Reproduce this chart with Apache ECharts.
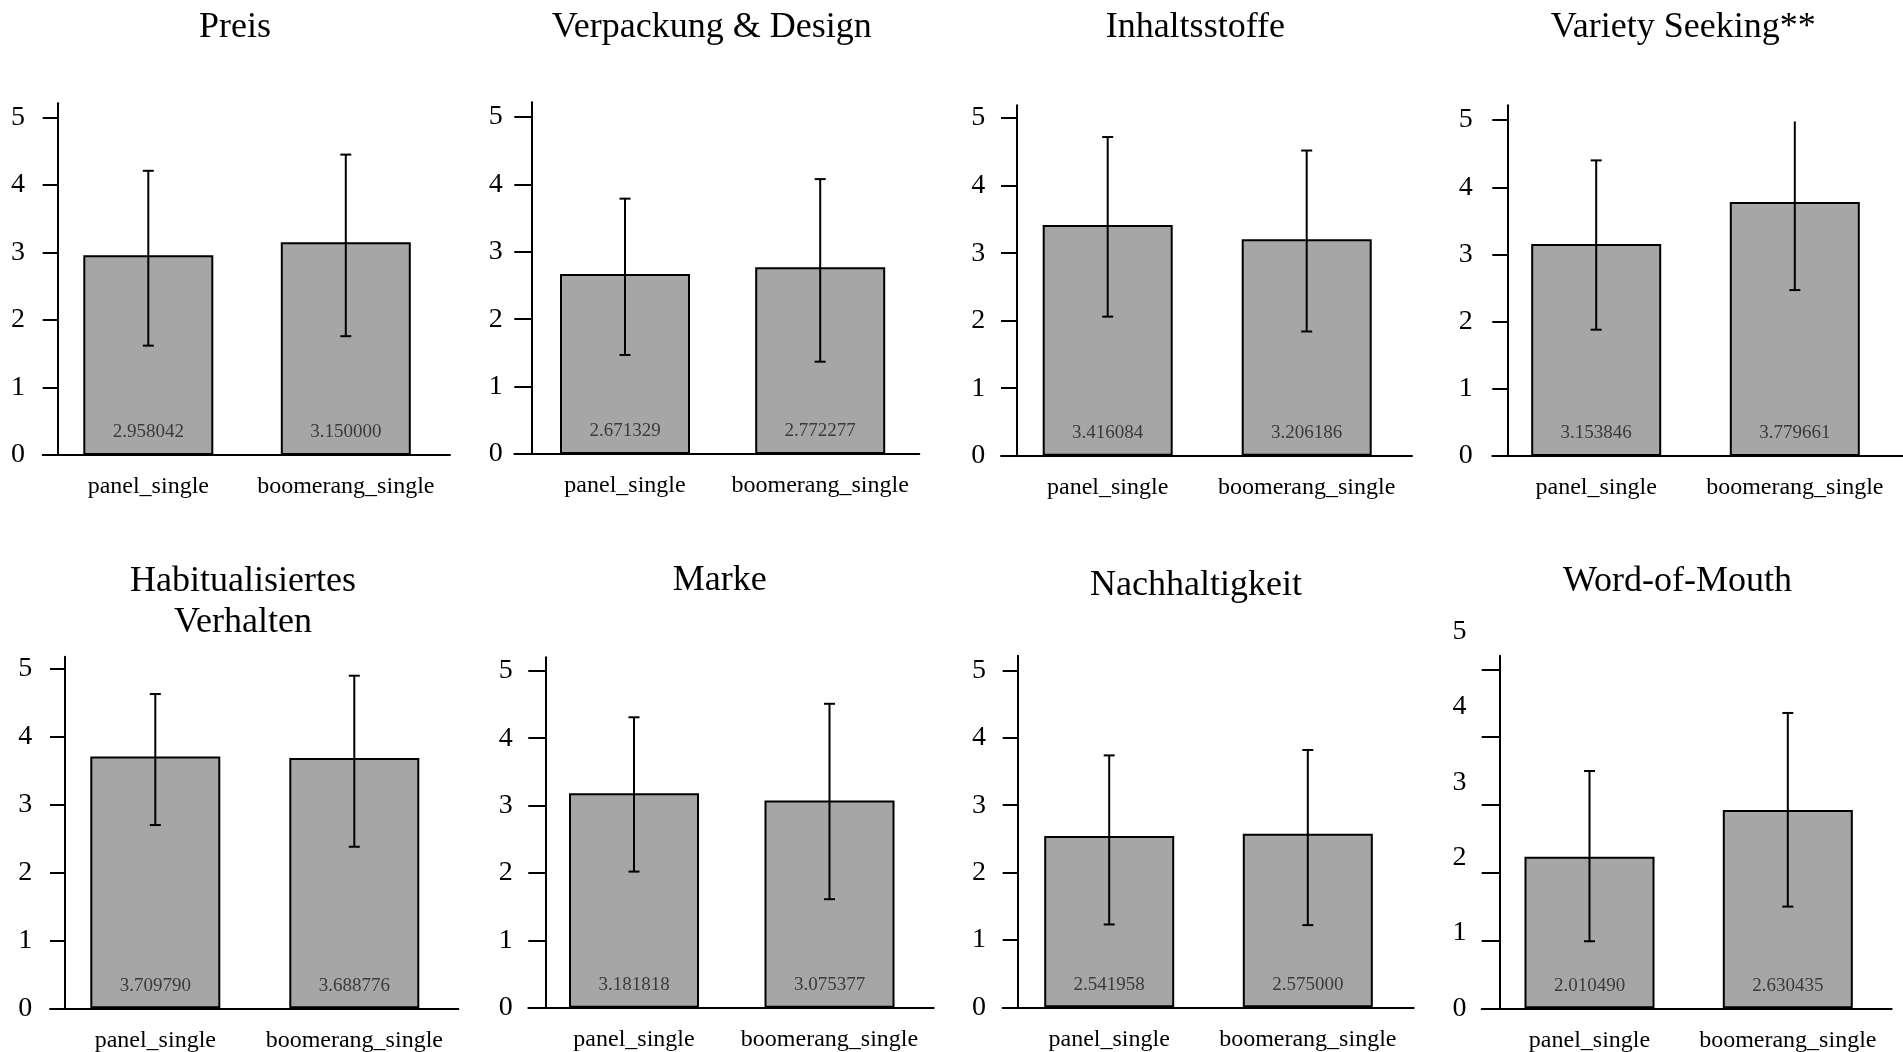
<!DOCTYPE html>
<html>
<head>
<meta charset="utf-8">
<script src="https://cdn.jsdelivr.net/npm/echarts@6/dist/echarts.min.js"></script>
<style>
  html, body { margin: 0; padding: 0; background: #ffffff; }
  #chart { width: 1903px; height: 1052px; }
</style>
</head>
<body>
<div id="chart"></div>
<script>
// ---- data ----
const titles = [
  'Preis', 'Verpackung & Design', 'Inhaltsstoffe', 'Variety Seeking**',
  'Habitualisiertes\nVerhalten', 'Marke', 'Nachhaltigkeit', 'Word-of-Mouth'
];
const categories = ['panel_single', 'boomerang_single'];

const panelMeans     = [2.958042, 2.671329, 3.416084, 3.153846, 3.709790, 3.181818, 2.541958, 2.010490];
const boomerangMeans = [3.150000, 2.772277, 3.206186, 3.779661, 3.688776, 3.075377, 2.575000, 2.630435];

// error bar ends (lower / upper)
const panelLow      = [1.62, 1.47, 2.06, 1.88, 2.70, 2.02, 1.23, 0.89];
const panelHigh     = [4.21, 3.79, 4.72, 4.40, 4.63, 4.31, 3.74, 3.15];
const boomerangLow  = [1.76, 1.37, 1.84, 2.47, 2.38, 1.61, 1.22, 1.35];
const boomerangHigh = [4.45, 4.08, 4.52, 5.03, 4.90, 4.51, 3.82, 3.92];

const yTickValues  = [0, 1, 2, 3, 4, 5];
const yLabelValues = [0, 1, 2, 3, 4, 5];
const wordTickValues = [0, 0.9, 1.8, 2.7, 3.6, 4.5];

// ---- panel geometry (pixels) ----
const panels = [
  { xStart: 42.7,   xEnd: 450,    axisX: 57.7,   zeroY: 455,    topY: 103.3, yMax: 5.21, c1: 148.3,  c2: 345.8,  labelMargin: 32.7, titleX: 235,    titleTop: 7.5 },
  { xStart: 514.3,  xEnd: 919.3,  axisX: 531.7,  zeroY: 454,    topY: 102.3, yMax: 5.22, c1: 625,    c2: 820.2,  labelMargin: 29,   titleX: 711.8,  titleTop: 7.5 },
  { xStart: 1001,   xEnd: 1412,   axisX: 1017,   zeroY: 455.7,  topY: 105.3, yMax: 5.19, c1: 1107.7, c2: 1306.7, labelMargin: 31.7, titleX: 1195.3, titleTop: 7.5 },
  { xStart: 1492.3, xEnd: 1902.7, axisX: 1507.3, zeroY: 456,    topY: 105.3, yMax: 5.22, c1: 1596.2, c2: 1794.8, labelMargin: 34.6, titleX: 1683.3, titleTop: 8 },
  { xStart: 50,     xEnd: 458.3,  axisX: 64.3,   zeroY: 1008.3, topY: 656.7, yMax: 5.18, c1: 155.3,  c2: 354.3,  labelMargin: 32,   titleX: 243,    titleTop: 561.4, titleLineHeight: 41 },
  { xStart: 528.3,  xEnd: 933.7,  axisX: 546,    zeroY: 1007.7, topY: 657.3, yMax: 5.20, c1: 634,    c2: 829.5,  labelMargin: 33.3, titleX: 719.7,  titleTop: 560.2 },
  { xStart: 1002.7, xEnd: 1413.7, axisX: 1018,   zeroY: 1007.3, topY: 655.7, yMax: 5.22, c1: 1109.2, c2: 1307.8, labelMargin: 32,   titleX: 1196,   titleTop: 565.2 },
  { xStart: 1481.7, xEnd: 1891.7, axisX: 1499.3, zeroY: 1008.3, topY: 655.7, yMax: 4.68, c1: 1589.5, c2: 1787.8, labelMargin: 32.7, titleX: 1677.5, titleTop: 561.2,
    ticks: wordTickValues, labelTop: 631.7 }
];

const SERIF = "'Liberation Serif', 'Times New Roman', serif";
const ERR_CEIL = 4.98;   // error bars are cut at the plotting ceiling
const CAP_HALF = 5.5;
const black = { color: '#000000', width: 2 };

function yLabel(margin) {
  return {
    show: true, customValues: yLabelValues, margin,
    fontFamily: SERIF, fontSize: 28, color: '#000000'
  };
}

function renderErrorBar(params, api) {
  const x = api.value(0);
  const lo = api.value(1);
  const hi = api.value(2);
  const pLo = api.coord([x, lo]);
  const pHi = api.coord([x, Math.min(hi, ERR_CEIL)]);
  const style = { stroke: '#000000', lineWidth: 2 };
  const children = [
    { type: 'line', shape: { x1: pLo[0], y1: pLo[1], x2: pHi[0], y2: pHi[1] }, style },
    { type: 'line', shape: { x1: pLo[0] - CAP_HALF, y1: pLo[1], x2: pLo[0] + CAP_HALF, y2: pLo[1] }, style }
  ];
  if (hi <= ERR_CEIL) {
    children.push({ type: 'line', shape: { x1: pHi[0] - CAP_HALF, y1: pHi[1], x2: pHi[0] + CAP_HALF, y2: pHi[1] }, style });
  }
  return { type: 'group', children };
}

const grid = [], xAxis = [], yAxis = [], series = [], title = [];

panels.forEach((p, i) => {
  const d = p.c2 - p.c1;
  const xMin = -(p.c1 - p.xStart) / d;
  const xMax = 1 + (p.xEnd - p.c2) / d;
  const tickLen = p.axisX - p.xStart;
  const ownLabels = !p.labelTop;

  title.push({
    text: titles[i],
    left: p.titleX,
    top: p.titleTop,
    textAlign: 'center',
    padding: 0,
    textStyle: {
      fontFamily: SERIF, fontSize: 36, fontWeight: 'normal', color: '#000000',
      lineHeight: p.titleLineHeight || 40
    }
  });

  const gi = grid.length;
  grid.push({
    left: p.xStart, top: p.topY,
    width: p.xEnd - p.xStart, height: p.zeroY - p.topY,
    containLabel: false, outerBoundsMode: 'none'
  });
  xAxis.push({
    gridIndex: gi, type: 'value', min: xMin, max: xMax,
    axisLine: { show: true, onZero: false, lineStyle: black },
    axisTick: { show: false },
    splitLine: { show: false },
    axisLabel: {
      show: true, customValues: [0, 1],
      formatter: v => categories[Math.round(v)],
      margin: 20, fontFamily: SERIF, fontSize: 24, color: '#000000'
    }
  });
  yAxis.push({
    gridIndex: gi, type: 'value', min: 0, max: p.yMax,
    offset: -tickLen,
    axisLine: { show: true, onZero: false, lineStyle: black },
    axisTick: { show: true, length: tickLen, customValues: p.ticks || yTickValues, lineStyle: black },
    splitLine: { show: false },
    axisLabel: ownLabels ? yLabel(p.labelMargin) : { show: false }
  });

  series.push({
    type: 'bar', xAxisIndex: gi, yAxisIndex: gi,
    barWidth: 130,
    data: [[0, panelMeans[i]], [1, boomerangMeans[i]]],
    itemStyle: { color: '#a6a6a6', borderColor: '#000000', borderWidth: 2 },
    label: {
      show: true, position: 'insideBottom', distance: 13,
      formatter: pr => pr.value[1].toFixed(6),
      fontFamily: SERIF, fontSize: 19, color: '#3a3a3a'
    },
    silent: true
  });
  series.push({
    type: 'custom', xAxisIndex: gi, yAxisIndex: gi,
    encode: { x: 0, y: [1, 2] },
    data: [[0, panelLow[i], panelHigh[i]], [1, boomerangLow[i], boomerangHigh[i]]],
    renderItem: renderErrorBar,
    z: 5, silent: true
  });

  // tick labels on their own scale where they do not follow the tick marks
  if (!ownLabels) {
    const li = grid.length;
    grid.push({
      left: p.xStart, top: p.labelTop,
      width: p.xEnd - p.xStart, height: p.zeroY - p.labelTop,
      containLabel: false, outerBoundsMode: 'none'
    });
    xAxis.push({ gridIndex: li, type: 'value', min: xMin, max: xMax, show: false });
    yAxis.push({
      gridIndex: li, type: 'value', min: 0, max: 5,
      offset: -tickLen,
      axisLine: { show: false }, axisTick: { show: false }, splitLine: { show: false },
      axisLabel: yLabel(p.labelMargin)
    });
  }
});

const chart = echarts.init(document.getElementById('chart'), null, { renderer: 'canvas' });
chart.setOption({
  animation: false,
  backgroundColor: '#ffffff',
  title, grid, xAxis, yAxis, series
});
</script>
</body>
</html>
